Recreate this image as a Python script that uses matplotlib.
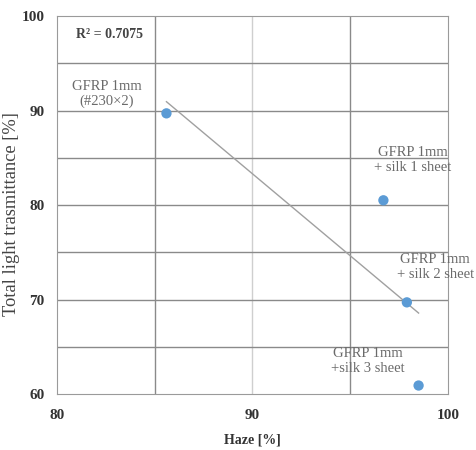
import numpy as np
import matplotlib
matplotlib.use("Agg")
import matplotlib.pyplot as plt

# haze vs total light transmittance for the GFRP samples
haze = [85.6, 96.7, 97.9, 98.5]
transmittance = [89.7, 80.5, 69.7, 60.9]
labels = ["GFRP 1mm\n(#230\u00d72)", "GFRP 1mm\n+ silk 1 sheet",
          "GFRP 1mm\n+ silk 2 sheet", "GFRP 1mm\n+silk 3 sheet"]
label_pos = [(82.56, 91.75), (98.21, 84.76), (99.35, 73.44), (95.91, 63.5)]
r2_text = "R\u00b2 = 0.7075"

plt.rcParams['font.family'] = ['Liberation Serif', 'DejaVu Serif']

fig = plt.figure(figsize=(4.77, 4.5), dpi=100)
ax = fig.add_axes([0.1195, 0.1244, 0.8195, 0.84])

ax.set_xlim(80, 100)
ax.set_ylim(60, 100)
ax.set_xticks([80, 90, 100])
ax.set_yticks([60, 70, 80, 90, 100])

# grid every 5 units
for v in [85, 95]:
    ax.axvline(v, color='#8a8a8a', lw=1, zorder=0)
ax.axvline(90, color='#cfcfcf', lw=1, zorder=0)
for v in [65, 70, 75, 80, 85, 90, 95]:
    ax.axhline(v, color='#8a8a8a', lw=1, zorder=0)
for s in ax.spines.values():
    s.set_color('#9a9a9a')

ax.tick_params(length=0, labelsize=11, colors='#333333')
ax.tick_params(axis='y', pad=9)
ax.tick_params(axis='x', pad=11)
for t in ax.get_xticklabels() + ax.get_yticklabels():
    t.set_fontweight('bold')

# linear trend
k, b = np.polyfit(haze, transmittance, 1)
xs = np.array([min(haze), max(haze)])
ax.plot(xs, k * xs + b, color='#a0a0a0', lw=1, zorder=2)

ax.scatter(haze, transmittance, s=55, color='#5b9bd5', zorder=3, edgecolors='none')

for txt, (x, y) in zip(labels, label_pos):
    ax.text(x, y, txt, ha='center', va='center', fontsize=10.5,
            color='#6a6a6a', linespacing=1.15)
ax.text(82.7, 98.0, r2_text, ha='center', va='center', fontsize=10,
        color='#444444', fontweight='bold')

ax.set_xlabel("Haze [%]", fontsize=10, fontweight='bold', color='#333333')
ax.xaxis.set_label_coords(0.5, -0.105)
ax.set_ylabel("Total light trasmittance [%]", fontsize=13.3, color='#444444')
ax.yaxis.set_label_coords(-0.095, 0.475)

fig.savefig("out.png", dpi=100)
